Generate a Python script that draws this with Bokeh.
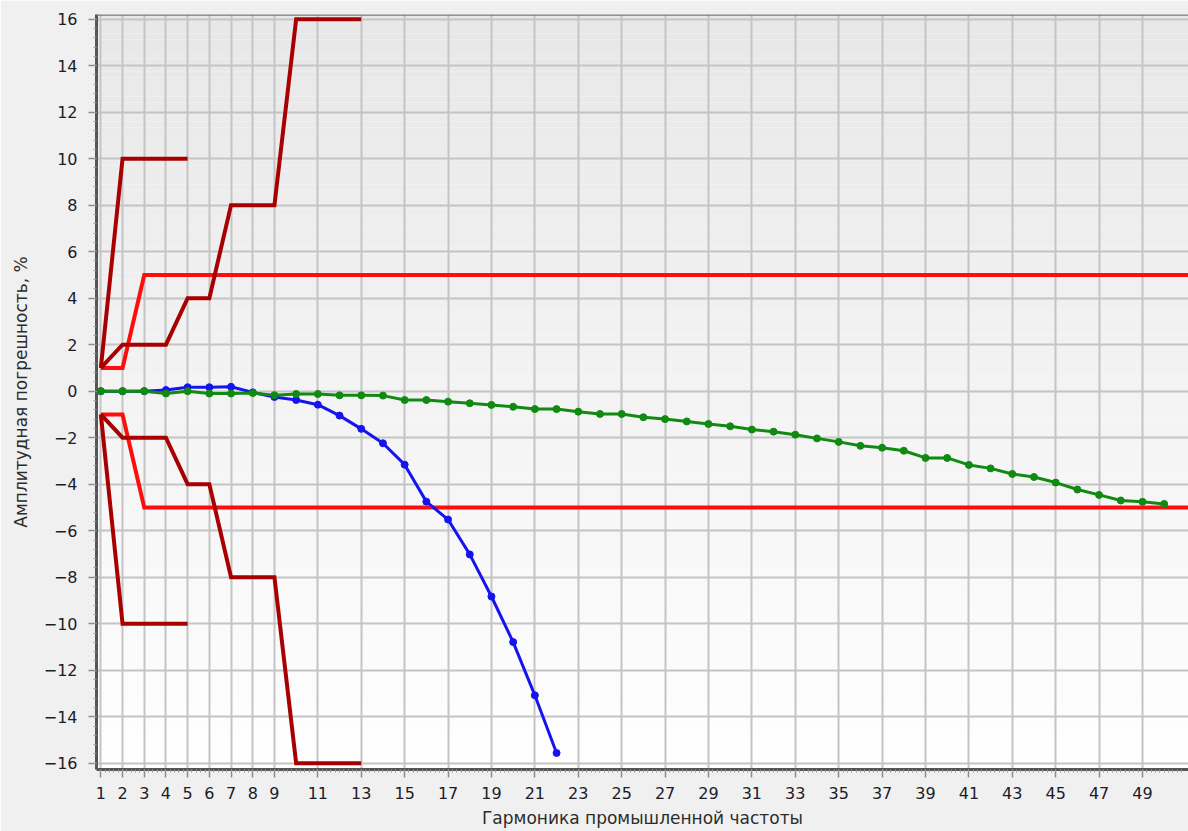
import numpy as np
from bokeh.plotting import figure
from bokeh.models import Range1d, FixedTicker, Span
from bokeh.embed import file_html
from bokeh.resources import INLINE

# Harmonic numbers and measured amplitude errors, %
harmonics_green = list(range(1, 51))
error_green = [0.0, 0.0, 0.0, -0.1, 0.0, -0.1, -0.1, -0.08, -0.17, -0.12,
               -0.12, -0.18, -0.18, -0.19, -0.38, -0.38, -0.45, -0.52, -0.59, -0.67,
               -0.77, -0.77, -0.88, -0.98, -0.98, -1.12, -1.2, -1.3, -1.41, -1.51,
               -1.65, -1.74, -1.87, -2.03, -2.18, -2.35, -2.43, -2.56, -2.87, -2.87,
               -3.17, -3.32, -3.56, -3.69, -3.93, -4.23, -4.46, -4.7, -4.76, -4.85]

harmonics_blue = list(range(1, 23))
error_blue = [0.0, 0.0, 0.0, 0.05, 0.17, 0.17, 0.19, -0.05, -0.25, -0.38,
              -0.58, -1.05, -1.62, -2.24, -3.16, -4.75, -5.52, -7.02, -8.83, -10.79,
              -13.08, -15.56]

# Tolerance limits (upper / lower), %
limit_a_x = [1, 2, 3, 52]
limit_a_hi = [1, 1, 5, 5]
limit_a_lo = [-1, -1, -5, -5]

limit_b_x = [1, 2, 4, 5, 6, 7, 9, 10, 13]
limit_b_hi = [1, 2, 2, 4, 4, 8, 8, 16, 16]
limit_b_lo = [-1, -2, -2, -4, -4, -8, -8, -16, -16]

limit_c_x = [1, 2, 5]
limit_c_hi = [1, 10, 10]
limit_c_lo = [-1, -10, -10]

# Axis ticks
x_tick_values = [1, 2, 3, 4, 5, 6, 7, 8, 9] + list(range(11, 50, 2))
y_tick_values = list(range(-16, 17, 2))

X_START, X_END = 0.8, 51.12
Y_START, Y_END = -16.27, 16.2

FONT = "DejaVu Sans"

p = figure(width=1188, height=831,
           x_range=Range1d(X_START, X_END), y_range=Range1d(Y_START, Y_END),
           output_backend="svg", toolbar_location=None,
           min_border_left=96, min_border_right=0,
           min_border_top=14, min_border_bottom=62)

p.border_fill_color = "#f0f0f0"
p.background_fill_color = "#ffffff"
p.outline_line_color = None

# vertical background gradient of the plotting area
n_bands = 120
edges = np.linspace(Y_START, Y_END, n_bands + 1)
shade = np.linspace(255, 232, n_bands).astype(int)
band_colors = ["#%02x%02x%02x" % (s, s, s) for s in shade]
p.quad(left=X_START, right=X_END, bottom=edges[:-1], top=edges[1:],
       fill_color=band_colors, line_color=None, level="image")

# grid
p.xgrid.ticker = FixedTicker(ticks=x_tick_values)
p.ygrid.ticker = FixedTicker(ticks=y_tick_values)
for g in (p.xgrid, p.ygrid):
    g.grid_line_color = "#c4c4c4"
    g.grid_line_width = 2

# axes
minor_x = [round(v, 2) for v in np.arange(1.0, 51.0, 0.2)]
minor_y = [round(v, 2) for v in np.arange(-16.0, 16.01, 0.4)]
p.xaxis.ticker = FixedTicker(ticks=x_tick_values, minor_ticks=minor_x)
p.yaxis.ticker = FixedTicker(ticks=y_tick_values, minor_ticks=minor_y)

p.xaxis.axis_label = "Гармоника промышленной частоты"
p.yaxis.axis_label = "Амплитудная погрешность, %"

for ax in (p.xaxis, p.yaxis):
    ax.axis_line_color = "#555555"
    ax.axis_line_width = 3
    ax.major_tick_in = 0
    ax.major_tick_out = 8
    ax.major_tick_line_color = "#8c8c8c"
    ax.major_tick_line_width = 1.5
    ax.minor_tick_in = 0
    ax.minor_tick_out = 3
    ax.minor_tick_line_color = "#9a9a9a"
    ax.major_label_text_font = FONT
    ax.major_label_text_font_size = "16px"
    ax.major_label_text_color = "#1c1c28"
    ax.axis_label_text_font = FONT
    ax.axis_label_text_font_size = "17px"
    ax.axis_label_text_font_style = "normal"
    ax.axis_label_text_color = "#2c2c2c"

p.xaxis.major_label_standoff = 9
p.xaxis.axis_label_standoff = 6
p.yaxis.major_label_standoff = 11
p.yaxis.axis_label_standoff = 10

# top border of the plotting area
p.add_layout(Span(location=Y_END, dimension="width",
                  line_color="#7a7a7a", line_width=2.5))

# tolerance limits
RED = "#ff0d0d"
DARK_RED = "#a80000"
p.line(limit_a_x, limit_a_hi, line_color=RED, line_width=4, line_join="miter")
p.line(limit_a_x, limit_a_lo, line_color=RED, line_width=4, line_join="miter")
for xs, ys in ((limit_b_x, limit_b_hi), (limit_b_x, limit_b_lo),
               (limit_c_x, limit_c_hi), (limit_c_x, limit_c_lo)):
    p.line(xs, ys, line_color=DARK_RED, line_width=4, line_join="miter")

# measured errors
BLUE = "#1414f0"
GREEN = "#118a11"
p.line(harmonics_blue, error_blue, line_color=BLUE, line_width=3)
p.scatter(harmonics_blue, error_blue, marker="circle", size=7,
          fill_color=BLUE, line_color=BLUE)
p.line(harmonics_green, error_green, line_color=GREEN, line_width=3)
p.scatter(harmonics_green, error_green, marker="circle", size=7,
          fill_color=GREEN, line_color=GREEN)

open("out.html", "w").write(file_html(p, INLINE))
